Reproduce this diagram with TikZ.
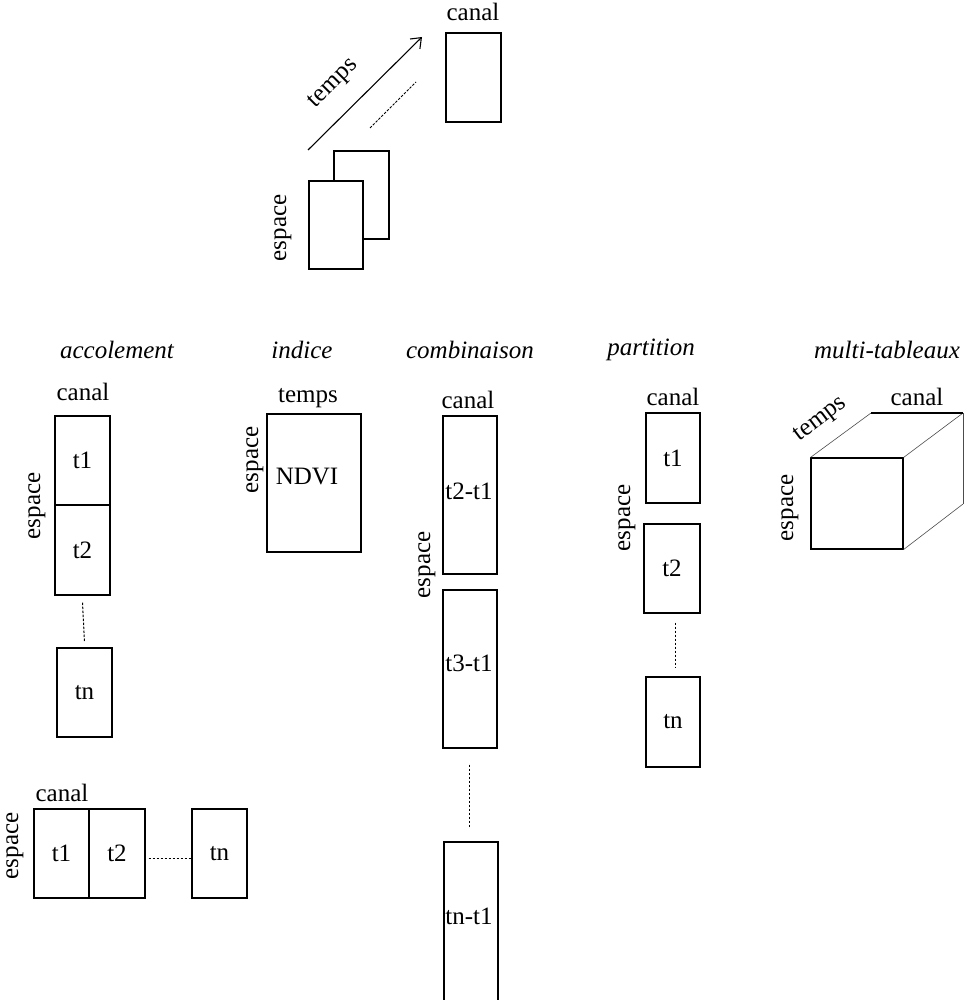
\documentclass[tikz,border=0pt]{standalone}
\usepackage{fontspec}
\setmainfont{Liberation Serif}
\usetikzlibrary{arrows.meta}
\begin{document}
\begin{tikzpicture}[x=1pt,y=-1pt,
  txt/.style={font=\fontsize{25}{30}\selectfont, inner sep=0pt},
  ttl/.style={font=\fontsize{25}{30}\selectfont\itshape, inner sep=0pt},
  vtxt/.style={txt, rotate=90},
  cell/.style={draw, line width=1.1pt, fill=white, inner sep=0pt,
    font=\fontsize{25}{30}\selectfont},
  gap/.style={line width=1pt, dash pattern=on 2.5pt off 1.5pt},
  edge/.style={line width=0.6pt, black!70}]
\useasboundingbox (0,0) rectangle (965,1000);

% ---- data cube: space x channel slices stacked along time ----
\node[cell, minimum width=55, minimum height=89] (cT) at (473.5,77.5) {};
\node[txt] (cTc) at (473,12) {canal};
\node[cell, minimum width=55, minimum height=88] (sB) at (361.5,195) {};
\node[cell, minimum width=54, minimum height=88] (sF) at (336,225) {};
\node[vtxt] (sFe) at (283,228) {espace};
\coordinate (ta) at (308,150);
\coordinate (tb) at (422,37);
\draw[line width=1.1pt, -{Straight Barb[length=9pt,width=14pt]}] (ta) -- (tb);
\node[txt, rotate=45] (tl) at (334,84) {temps};
\coordinate (da) at (370,128);
\coordinate (db) at (416,82);
\draw[gap] (da) -- (db);

% ---- titles ----
\node[ttl] (h1) at (117,350) {accolement};
\node[ttl] (h2) at (302,350) {indice};
\node[ttl] (h3) at (470,350) {combinaison};
\node[ttl] (h4) at (651,350) {partition};
\node[ttl] (h5) at (887,350) {multi-tableaux};

% ---- accolement (vertical) ----
\node[txt] (a0c) at (83,392) {canal};
\node[vtxt] (a0e) at (37,506) {espace};
\node[cell, minimum width=55, minimum height=89] (a1) at (82.5,460.5) {t1};
\node[cell, minimum width=55, minimum height=90] (a2) at (82.5,550) {t2};
\node[cell, minimum width=55, minimum height=89] (an) at (84.5,692.5) {tn};
\draw[gap] ([yshift=-7pt]a2.south) -- ([yshift=5pt]an.north);

% ---- accolement (horizontal) ----
\node[txt] (b0c) at (62,793) {canal};
\node[vtxt] (b0e) at (15,846) {espace};
\node[cell, minimum width=55, minimum height=89] (b1) at (61.5,853.5) {t1};
\node[cell, minimum width=56, minimum height=89] (b2) at (117,853.5) {t2};
\node[cell, minimum width=55, minimum height=89] (bn) at (219.5,853.5) {tn};
\draw[gap] ([xshift=3pt,yshift=-5pt]b2.east) -- ([yshift=-5pt]bn.west);

% ---- indice ----
\node[txt] (i0t) at (308,398) {temps};
\node[vtxt] (i0e) at (255,460) {espace};
\node[cell, minimum width=94, minimum height=138] (i1) at (314,483) {};
\node[txt] (i1l) at (307,477) {NDVI};

% ---- combinaison ----
\node[txt] (c0c) at (468,400) {canal};
\node[vtxt] (c0e) at (427,565) {espace};
\node[cell, minimum width=54, minimum height=158] (c1) at (470,495) {};
\node[txt] (c1l) at (469,491) {t2-t1};
\node[cell, minimum width=54, minimum height=158] (c2) at (470,669) {};
\node[txt] (c2l) at (469,663) {t3-t1};
\node[cell, minimum width=54, minimum height=165] (cn) at (471,924.5) {};
\node[txt] (cnl) at (469,916) {tn-t1};
\draw[gap] ([xshift=-1pt,yshift=-16pt]c2.south) -- ([xshift=-2pt,yshift=13pt]cn.north);

% ---- partition ----
\node[txt] (p0c) at (673,397) {canal};
\node[vtxt] (p0e) at (627,518) {espace};
\node[cell, minimum width=54, minimum height=90] (p1) at (673,458) {t1};
\node[cell, minimum width=56, minimum height=89] (p2) at (672,568.5) {t2};
\node[cell, minimum width=54, minimum height=90] (pn) at (673,722) {tn};
\draw[gap] ([xshift=3pt,yshift=-9pt]p2.south) -- ([xshift=2pt,yshift=9pt]pn.north);

% ---- multi-tableaux ----
\node[cell, minimum width=92, minimum height=91] (m1) at (857,503.5) {};
\coordinate (mtl) at (871,413);
\coordinate (mtr) at (963,413);
\coordinate (mbr) at (963,504);
\draw[edge] (m1.north west) -- (mtl);
\draw[edge] (m1.north east) -- (mtr);
\draw[edge] (m1.south east) -- (mbr);
\draw[edge] (mtr) -- (mbr);
\draw[line width=1.1pt] (mtl) -- (mtr);
\node[txt, rotate=37] (m0t) at (821,420) {temps};
\node[txt] (m0c) at (917,397) {canal};
\node[vtxt] (m0e) at (790,508) {espace};
\end{tikzpicture}
\end{document}
